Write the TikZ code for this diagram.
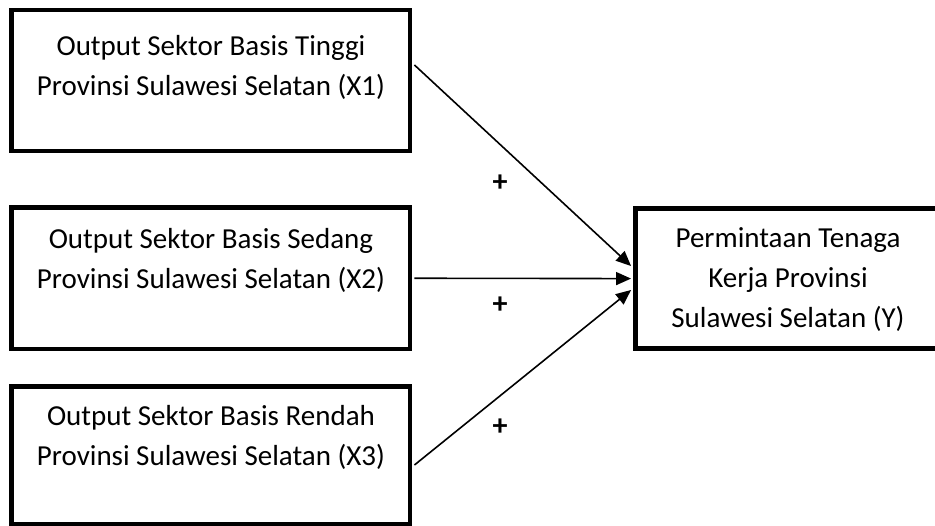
\documentclass[tikz,border=0pt]{standalone}
\usepackage{fontspec}
\setmainfont{Carlito}
\usetikzlibrary{arrows.meta}
\begin{document}
\begin{tikzpicture}[x=1pt,y=-1pt,
 box/.style={draw, line width=4.5pt, inner sep=0pt},
 txt/.style={align=center, font=\fontsize{29}{40}\selectfont, inner sep=0pt},
 plus/.style={font=\fontsize{30}{40}\selectfont\bfseries, inner sep=0pt},
 arr/.style={line width=1.6pt, -{Triangle[length=15pt,width=13pt]}}]
\useasboundingbox (0,0) rectangle (935,526);
\node[box, minimum width=398.3pt, minimum height=141pt] (x1) at (210.85,80.5) {};
\node[box, minimum width=398.3pt, minimum height=141.5pt] (x2) at (210.85,278.25) {};
\node[box, minimum width=398.3pt, minimum height=137.5pt] (x3) at (210.85,455.25) {};
\node[box, minimum width=309.5pt, minimum height=140.2pt] (y) at (790.25,278.6) {};
\node[txt] (t1) at (211,67.5) {Output Sektor Basis Tinggi\\Provinsi Sulawesi Selatan (X1)};
\node[txt] (t2) at (211,260) {Output Sektor Basis Sedang\\Provinsi Sulawesi Selatan (X2)};
\node[txt] (t3) at (211,437.5) {Output Sektor Basis Rendah\\Provinsi Sulawesi Selatan (X3)};
\node[txt] (ty) at (788,280) {Permintaan Tenaga\\Kerja Provinsi\\Sulawesi Selatan (Y)};
\draw[arr] ([xshift=2.2pt,yshift=15.5pt]x1.east) -- ([xshift=-2.2pt,yshift=12.6pt]y.west);
\draw[arr] ([xshift=2.2pt]x2.east) -- ([xshift=-2.2pt]y.west);
\draw[arr] ([xshift=2.2pt,yshift=-9.75pt]x3.east) -- ([xshift=-2.2pt,yshift=-11.4pt]y.west);
\node[plus] (p1) at (500,183) {+};
\node[plus] (p2) at (500,305) {+};
\node[plus] (p3) at (500,427) {+};
\end{tikzpicture}
\end{document}
